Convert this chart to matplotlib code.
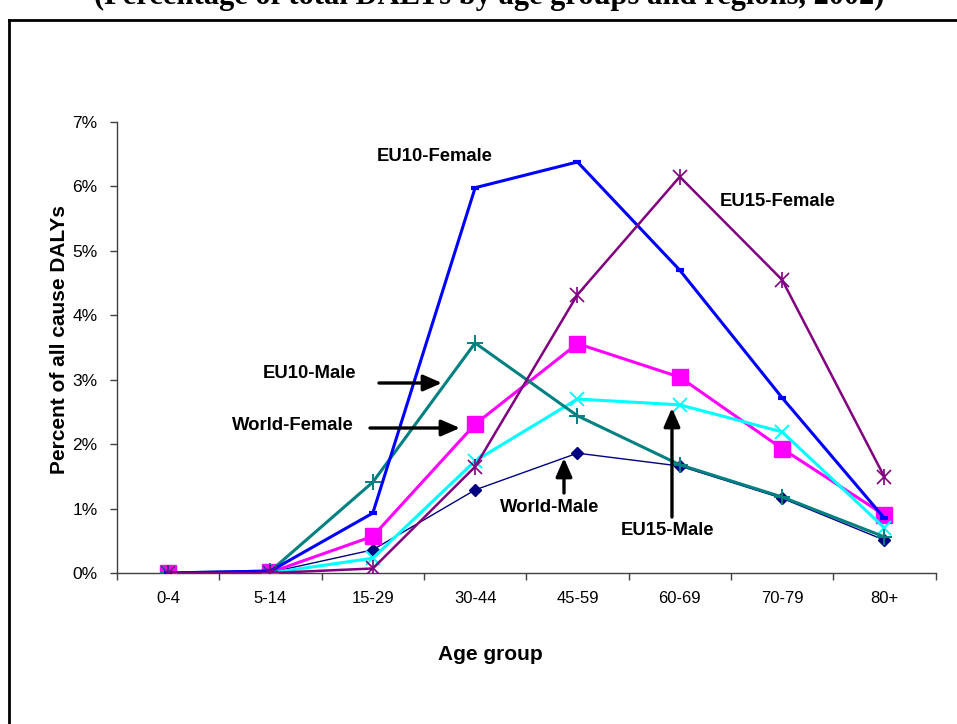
import matplotlib
matplotlib.use("Agg")
import matplotlib.pyplot as plt
from matplotlib.lines import Line2D
from matplotlib.ticker import FuncFormatter, FixedLocator

plt.rcParams['font.family'] = ['Liberation Sans', 'DejaVu Sans']

age_groups = ["0-4", "5-14", "15-29", "30-44", "45-59", "60-69", "70-79", "80+"]

world_male   = [0.00, 0.01, 0.36, 1.29, 1.86, 1.66, 1.16, 0.51]
eu10_male    = [0.00, 0.03, 1.41, 3.57, 2.44, 1.68, 1.18, 0.56]
eu15_male    = [0.00, 0.00, 0.23, 1.74, 2.70, 2.61, 2.19, 0.70]
world_female = [0.00, 0.01, 0.57, 2.31, 3.56, 3.04, 1.93, 0.90]
eu10_female  = [0.00, 0.03, 0.93, 5.98, 6.38, 4.70, 2.72, 0.85]
eu15_female  = [0.00, 0.00, 0.07, 1.65, 4.32, 6.15, 4.55, 1.49]

yticks = [0, 1, 2, 3, 4, 5, 6, 7]

W, H = 957, 724
fig = plt.figure(figsize=(W / 100, H / 100), dpi=100)
fig.patch.set_facecolor("white")

ax_left, ax_right, ax_bottom, ax_top = 117, 935.6, 573, 122
ax = fig.add_axes([ax_left / W, 1 - ax_bottom / H, (ax_right - ax_left) / W, (ax_bottom - ax_top) / H])

x = list(range(len(age_groups)))

ax.plot(x, world_male, color="#000080", lw=1.0, marker="D", ms=6, mec="#000080", mfc="#000080", zorder=3)
ax.plot(x, world_female, color="#FF00FF", lw=2.2, marker="s", ms=11, mec="#FF00FF", mfc="#FF00FF", zorder=3)
ax.plot(x, eu15_male, color="#00FFFF", lw=2.2, marker="x", ms=10, mew=1.4, mec="#00FFFF", zorder=4)
ax.plot(x, eu10_male, color="#008080", lw=2.2, marker="+", ms=11, mew=1.4, mec="#008080", zorder=4)
ax.plot(x, eu10_female, color="#0000FF", lw=2.2, marker="_", ms=6, mew=3, mec="#0000FF", zorder=5)
ax.plot(x, eu15_female, color="#800080", lw=1.8, marker="x", ms=10, mew=1.2, mec="#800080", zorder=6)
ax.plot(x, eu15_female, ls="none", marker="|", ms=12, mew=1.2, mec="#800080", zorder=6)

ax.set_xlim(-0.5, len(age_groups) - 0.5)
ax.set_ylim(0, 7)

axis_color = "#404040"
for s in ["top", "right"]:
    ax.spines[s].set_visible(False)
for s in ["left", "bottom"]:
    ax.spines[s].set_color(axis_color)
    ax.spines[s].set_linewidth(1.0)

ax.xaxis.set_major_locator(FixedLocator([i - 0.5 for i in range(len(age_groups) + 1)]))
ax.xaxis.set_minor_locator(FixedLocator(x))
ax.set_xticklabels([], minor=False)
ax.set_xticklabels(age_groups, minor=True)
ax.tick_params(axis="x", which="major", direction="out", length=5, width=1, color=axis_color)
ax.tick_params(axis="x", which="minor", length=0, pad=13, labelsize=12)

ax.set_yticks(yticks)
ax.yaxis.set_major_formatter(FuncFormatter(lambda v, p: f"{v:.0f}%"))
ax.tick_params(axis="y", direction="out", length=5, width=1, color=axis_color, pad=9, labelsize=12.5)

fig.text(60 / W, 1 - 340 / H, "Percent of all cause DALYs", rotation=90, ha="center", va="center",
         fontsize=15, fontweight="bold")
fig.text(490 / W, 1 - 655 / H, "Age group", ha="center", va="center", fontsize=15, fontweight="bold")

def px2d(px, py):
    return ((px - ax_left) / 102.33 - 0.5, (ax_bottom - py) / 64.43)

lab_fs = 13.3
for txt, (px, py) in [("EU10-Female", (435, 156)), ("EU15-Female", (778, 201)),
                      ("EU10-Male", (310, 373)), ("World-Female", (293, 425)),
                      ("World-Male", (550, 507)), ("EU15-Male", (668, 530))]:
    xd, yd = px2d(px, py)
    ax.text(xd, yd, txt, ha="center", va="center", fontsize=lab_fs, fontweight="bold", zorder=10)

arrow_kw = dict(arrowstyle="-|>,head_length=0.8,head_width=0.35", lw=2.4, color="black",
                shrinkA=0, shrinkB=0, mutation_scale=14)
for (p0, p1) in [((379, 383), (442, 383)), ((370, 428), (460, 428)),
                 ((564, 493), (564, 458)), ((672, 517), (672, 408))]:
    ax.annotate("", xy=px2d(*p1), xytext=px2d(*p0), arrowprops=arrow_kw, zorder=10)

# border frame (partially off-canvas)
fig.add_artist(Line2D([9 / W, 9 / W], [1 - 20 / H, -0.1], color="black", lw=2.0))
fig.add_artist(Line2D([9 / W, 1.1], [1 - 20 / H, 1 - 20 / H], color="black", lw=2.0))

# title (mostly cut off at top, as in the reference)
fig.text(489 / W, 1 - 4 / H, "(Percentage of total DALYs by age groups and regions, 2002)",
         ha="center", va="baseline", fontsize=22, fontweight="bold", family=["Liberation Serif", "DejaVu Serif"])

fig.savefig("out.png", dpi=100)
